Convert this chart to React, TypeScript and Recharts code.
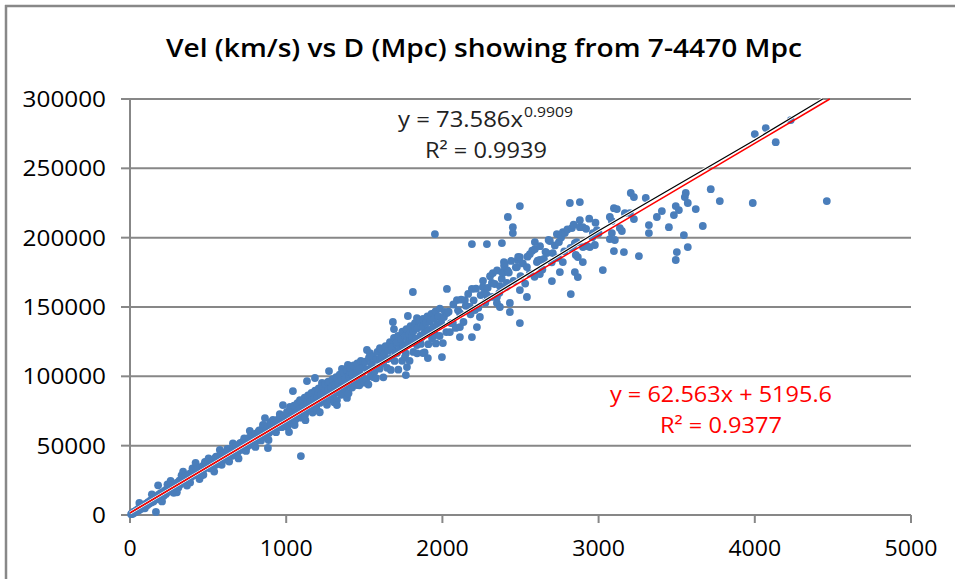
import React from 'react';
import { ScatterChart, Scatter, XAxis, YAxis, CartesianGrid } from 'recharts';

// [distance Mpc, velocity km/s], grouped by distance range
const nearGalaxies: [number, number][] = [
  [7, 600], [12, 1100], [18, 900], [25, 2400], [31, 1800], [38, 3100], [44, 2600], [50, 4300], [57, 3500], [60, 8700], [63, 5200],
  [70, 4400], [76, 6100], [83, 5300], [90, 7400], [95, 4800], [96, 6200], [103, 8100], [110, 7000], [116, 9300], [122, 8200], [130, 10400],
  [137, 9100], [140, 14900], [143, 11500], [150, 9800], [157, 12400], [163, 11200], [166, 2200], [170, 13500], [176, 11700], [180, 21400], [183, 14600],
  [190, 12900], [196, 15800], [200, 10900], [203, 14200], [205, 9800], [210, 16400], [216, 13900], [223, 17500], [230, 15200], [236, 18800], [240, 22100], [243, 16700],
  [250, 19200], [256, 17100], [260, 24600], [263, 20300], [270, 18600], [276, 21500], [280, 16000], [283, 19400], [290, 22600], [296, 20900], [300, 16400],
  [303, 23300], [310, 19800], [316, 24700], [323, 22100], [330, 25400], [330, 28600], [336, 23500], [340, 31200], [343, 26800], [350, 24200], [356, 27900],
  [363, 25100], [365, 21200], [370, 28600], [376, 26700], [383, 29800], [385, 23500], [390, 27400], [396, 30500], [400, 33600], [403, 28300], [410, 31700], [416, 28900],
  [420, 37600], [423, 32400], [430, 30100], [436, 33600], [443, 31500], [445, 25900], [450, 34300], [456, 32200], [460, 28600], [463, 35100], [470, 33400], [470, 29100],
  [476, 36500], [480, 38300], [483, 33900], [490, 37200], [496, 35600],
];

const midGalaxies: [number, number][] = [
  [503, 38400], [503, 40800], [510, 34700], [515, 33600], [516, 36900], [523, 39600], [527, 38100], [530, 33800], [536, 37600], [539, 31300],
  [543, 40900], [550, 36200], [551, 42100], [556, 39100], [563, 42300], [563, 38300], [570, 37400], [575, 47000], [576, 40300], [583, 43500],
  [587, 36200], [590, 38900], [596, 41700], [599, 44000], [603, 44800], [610, 40200], [611, 40300], [616, 42800], [623, 46300], [623, 47700],
  [630, 41100], [635, 38500], [636, 44200], [643, 47400], [647, 45400], [650, 42600], [656, 45900], [659, 51700], [663, 48600], [670, 43800],
  [671, 43000], [676, 46700], [683, 50200], [683, 49100], [690, 45400], [695, 40800], [696, 48300], [703, 51500], [707, 52000], [710, 46900],
  [716, 49800], [719, 49100], [723, 52700], [730, 48100], [731, 55300], [736, 51200], [743, 54300], [743, 46200], [750, 49200], [755, 52800],
  [756, 52400], [763, 55800], [767, 60700], [770, 50900], [776, 54100], [779, 50700], [783, 57200], [790, 52300], [791, 57200], [796, 55500],
  [803, 58600], [803, 49100], [810, 53800], [815, 56200], [816, 56700], [823, 60100], [827, 61000], [830, 55200], [836, 58300], [839, 53800],
  [843, 61500], [850, 56400], [851, 64900], [856, 59600], [863, 62800], [863, 57800], [864, 69900], [870, 58100], [875, 62100], [876, 61200],
  [883, 48300], [883, 64300], [887, 54100], [890, 59200], [896, 62600], [899, 66900], [903, 66100], [910, 60700], [911, 61300], [915, 68500],
  [916, 63800], [923, 67200], [923, 66700], [930, 62100], [935, 59700], [936, 65400], [941, 63400], [943, 68600], [947, 66400], [950, 63500],
  [956, 66700], [959, 72800], [960, 70700], [963, 70100], [970, 64800], [971, 63300], [976, 68200], [979, 79300], [983, 71400], [983, 71000],
  [990, 66300], [995, 64300], [996, 69500],
];

const farGalaxies: [number, number][] = [
  [1005, 74300], [1008, 63500], [1012, 65200], [1018, 59800], [1020, 70400], [1024, 77900], [1028, 76800], [1031, 66900], [1035, 67100], [1042, 72500],
  [1043, 89400], [1050, 78900], [1054, 64900], [1058, 68600], [1065, 74200], [1072, 80600], [1077, 70900], [1080, 70300], [1088, 76500], [1088, 82900],
  [1094, 42500], [1095, 82100], [1100, 70200], [1102, 72400], [1110, 78300], [1118, 84600], [1120, 72100], [1123, 68400], [1125, 74100], [1132, 79800],
  [1133, 96600], [1140, 86200], [1146, 76100], [1148, 75900], [1152, 86500], [1155, 81700], [1162, 88100], [1169, 73900], [1170, 77200], [1178, 83500],
  [1184, 98800], [1185, 89600], [1192, 79400], [1192, 77900], [1197, 75700], [1200, 85200], [1203, 88700], [1208, 91300], [1215, 80800], [1215, 74100],
  [1222, 86900], [1229, 95200], [1230, 93100], [1238, 82500], [1238, 81900], [1245, 88400], [1248, 90100], [1252, 94700], [1260, 84200], [1261, 79500],
  [1267, 95900], [1268, 90300], [1274, 103800], [1275, 96400], [1280, 85100], [1282, 85600], [1284, 83200], [1290, 91800], [1298, 97900], [1305, 87300],
  [1307, 81300], [1312, 93600], [1320, 99500], [1325, 82900], [1325, 79300], [1325, 98800], [1328, 88900], [1330, 88600], [1335, 95100], [1342, 101200],
  [1350, 90400], [1353, 86700], [1357, 95200], [1357, 105300], [1358, 96800], [1365, 102900], [1372, 92300], [1376, 90400], [1380, 98400], [1388, 104500],
  [1389, 84400], [1395, 93800], [1395, 108200], [1399, 87800], [1402, 100100], [1408, 97300], [1408, 103100], [1410, 106200], [1418, 95500], [1422, 91900],
  [1425, 101600], [1432, 107800], [1440, 97100], [1445, 96600], [1448, 103200], [1453, 93700], [1453, 104500], [1455, 109300], [1462, 98600], [1468, 93500],
  [1470, 104800], [1478, 111100], [1485, 100300], [1491, 110300], [1491, 97300], [1492, 106400],
];

const distantGalaxies: [number, number][] = [
  [1502, 95400], [1505, 110600], [1512, 97800], [1517, 119000], [1520, 105100], [1526, 94100], [1530, 113400], [1536, 116800], [1540, 100200], [1548, 108700],
  [1550, 101100], [1555, 99500], [1556, 114300], [1565, 103500], [1574, 98600], [1575, 111800], [1584, 117600], [1592, 106100], [1598, 105500], [1600, 112900],
  [1600, 120400], [1610, 119400], [1613, 113900], [1620, 109300], [1622, 99300], [1628, 116200], [1636, 121700], [1645, 112400], [1646, 106100], [1655, 118300],
  [1664, 124600], [1670, 104600], [1672, 113200], [1680, 121100], [1683, 139200], [1690, 127800], [1690, 134100], [1694, 111100], [1700, 117300], [1708, 123600],
  [1709, 124700], [1709, 116800], [1716, 129200], [1718, 104800], [1725, 119500], [1735, 126400], [1742, 111200], [1744, 132300], [1747, 122600], [1752, 121600],
  [1760, 128800], [1760, 113900], [1766, 100900], [1766, 116500], [1770, 134100], [1773, 106700], [1773, 128300], [1779, 143500], [1780, 124300], [1788, 130500],
  [1790, 111200], [1796, 136200], [1805, 125100], [1805, 129100], [1811, 160800], [1814, 117600], [1815, 132700], [1824, 138300], [1824, 134800], [1832, 127200],
  [1837, 142000], [1837, 122600], [1838, 116600], [1840, 134600], [1850, 140100], [1856, 140600], [1860, 129400], [1862, 123400], [1868, 136300], [1869, 128300],
  [1875, 135500], [1875, 116800], [1876, 141400], [1885, 131100], [1886, 117200], [1895, 138600], [1901, 131200], [1904, 143200], [1907, 133400], [1907, 113200],
  [1910, 123200], [1912, 133300], [1920, 139400], [1930, 145100], [1934, 127400], [1939, 131200], [1940, 135200], [1948, 141600], [1952, 202600], [1952, 129800],
  [1956, 146800], [1958, 123700], [1965, 137300], [1975, 143200], [1982, 129100], [1984, 148900], [1992, 139100], [1997, 113900],
];

const deepGalaxies: [number, number][] = [
  [2003, 124000], [2010, 142700], [2016, 146400], [2025, 131900], [2029, 163000], [2029, 145600], [2040, 146600], [2048, 131900], [2055, 138400], [2067, 138400],
  [2070, 151800], [2085, 134900], [2093, 155000], [2100, 147600], [2112, 145600], [2112, 135500], [2112, 128300], [2120, 155300], [2135, 139200], [2144, 155000],
  [2150, 150900], [2165, 159400], [2176, 150000], [2180, 144700], [2189, 195400], [2189, 163000], [2189, 128300], [2200, 154800], [2208, 147800], [2215, 163200],
  [2221, 135500], [2230, 149400], [2240, 142800], [2245, 158600], [2259, 164400], [2260, 168900], [2272, 160800], [2275, 153100], [2285, 195400], [2285, 158600],
  [2290, 163800], [2291, 156500], [2305, 172200], [2317, 167300], [2320, 157300], [2323, 174500], [2335, 166600], [2349, 157200], [2349, 152900], [2350, 176400],
  [2365, 160200], [2368, 165100], [2368, 150000], [2380, 170300], [2381, 196100], [2381, 175200], [2387, 174500], [2394, 182400], [2395, 179700], [2400, 181000],
  [2410, 164500], [2413, 167300], [2413, 176600], [2419, 214900], [2419, 175900], [2425, 174800], [2432, 146400], [2432, 152900], [2440, 183200], [2451, 207600],
  [2451, 203300], [2455, 168800], [2470, 178600], [2477, 178800], [2483, 183900], [2485, 186100], [2496, 222800], [2496, 186000], [2496, 162200], [2496, 138400],
  [2500, 172300],
];

const remoteGalaxies: [number, number][] = [
  [2515, 181400], [2530, 166900], [2541, 178800], [2541, 157200], [2545, 186300], [2560, 174200], [2560, 188200], [2575, 190600], [2590, 171800], [2592, 196800],
  [2592, 191800], [2605, 182400], [2610, 183400], [2624, 183900], [2624, 173800], [2625, 193900], [2640, 177100], [2650, 184600], [2660, 189800], [2669, 188900],
  [2680, 198300], [2688, 197600], [2700, 182200], [2701, 168700], [2707, 188900], [2720, 194400], [2733, 202600], [2740, 185500], [2746, 196800], [2752, 175200],
  [2760, 200200], [2771, 204000], [2771, 182400], [2780, 190100], [2784, 203300], [2800, 205900], [2816, 225000], [2820, 192600], [2822, 159300], [2829, 206900],
  [2835, 193200], [2840, 209300], [2848, 196100], [2848, 175200], [2854, 187500], [2860, 196700], [2867, 186000], [2867, 171600], [2880, 207600], [2880, 225700],
  [2880, 212600], [2899, 207600], [2899, 182400], [2900, 193200], [2920, 206400], [2925, 194000], [2940, 213700], [2944, 193200], [2960, 200300], [2963, 203300],
  [2976, 194700], [2980, 210800], [2989, 205500], [3000, 203200], [3027, 176600], [3072, 214900], [3072, 199000], [3085, 212000], [3085, 203300], [3098, 221300],
  [3098, 190300], [3104, 198300], [3117, 220600], [3136, 206900], [3149, 204800], [3162, 189600], [3168, 217700], [3200, 217700], [3206, 232200], [3226, 229300],
  [3226, 213400], [3258, 186700], [3302, 228600], [3322, 209100], [3322, 203300], [3373, 214900], [3405, 219200], [3450, 207600], [3482, 216300], [3494, 222800],
  [3494, 183900], [3501, 189600], [3514, 219900], [3546, 201900], [3552, 229300], [3558, 232200], [3571, 225000], [3571, 193200], [3622, 220600], [3667, 208400],
  [3718, 235000], [3776, 226400], [3987, 225000], [4000, 274700], [4070, 279000], [4134, 268900], [4230, 284800], [4461, 226400],
];

// trendlines
const powerFitDist = [0, 500, 1000, 2000, 3000, 4000, 4435];
const powerFitVel = [1500, 34800, 68200, 136000, 205000, 270500, 300000];
const linearFitDist = [0, 4480];
const linearFitVel = [1500, 300000];

const xTicks = [0, 1000, 2000, 3000, 4000, 5000];
const yTicks = [0, 50000, 100000, 150000, 200000, 250000, 300000];

const galaxies = [
  ...nearGalaxies, ...midGalaxies, ...farGalaxies, ...distantGalaxies, ...deepGalaxies, ...remoteGalaxies,
].map(([d, v]) => ({ d, v }));
const powerFit = powerFitDist.map((d, i) => ({ d, v: powerFitVel[i] }));
const linearFit = linearFitDist.map((d, i) => ({ d, v: linearFitVel[i] }));

const GRID = '#878787';
const FONT = "'Open Sans', sans-serif";

const YTick = (props: any) => {
  const { x, y, payload } = props;
  const s = String(payload.value);
  return (
    <text x={x} y={y + 8} textAnchor="end" fontFamily={FONT} fontSize={22} fill="#000"
      textLength={s.length * 13.9} lengthAdjust="spacingAndGlyphs">{s}</text>
  );
};

const XTick = (props: any) => {
  const { x, y, payload } = props;
  const s = String(payload.value);
  return (
    <text x={x} y={y + 33} textAnchor="middle" fontFamily={FONT} fontSize={22} fill="#000"
      textLength={s.length * 13.2} lengthAdjust="spacingAndGlyphs">{s}</text>
  );
};

const Dot = (props: any) => <circle cx={props.cx} cy={props.cy} r={3.9} fill="#4A7EBB" />;
const NoDot = () => <g />;

export default function App() {
  return (
    <div style={{ position: 'absolute', left: 0, top: 0, width: 955, height: 579, background: '#fff' }}>
      <ScatterChart width={955} height={579} margin={{ top: 99, right: 44, bottom: 0, left: 0 }}>
        <CartesianGrid vertical={false} stroke={GRID} strokeWidth={2} />
        <XAxis type="number" dataKey="d" domain={[0, 5000]} ticks={xTicks} interval={0} height={64}
          axisLine={{ stroke: GRID, strokeWidth: 2 }} tickLine={{ stroke: GRID, strokeWidth: 2 }}
          tickSize={8} tickMargin={0} tick={<XTick />} />
        <YAxis type="number" dataKey="v" domain={[0, 300000]} ticks={yTicks} interval={0} width={130}
          axisLine={{ stroke: GRID, strokeWidth: 2 }} tickLine={{ stroke: GRID, strokeWidth: 2 }}
          tickSize={9} tickMargin={15} tick={<YTick />} />
        <Scatter data={galaxies} shape={<Dot />} isAnimationActive={false} />
        <Scatter data={powerFit} line={{ stroke: '#ffffff', strokeWidth: 3 }} lineType="joint" shape={<NoDot />} isAnimationActive={false} />
        <Scatter data={powerFit} line={{ stroke: '#000000', strokeWidth: 1.2 }} lineType="joint" shape={<NoDot />} isAnimationActive={false} />
        <Scatter data={linearFit} line={{ stroke: '#ff0000', strokeWidth: 1.5 }} lineType="joint" shape={<NoDot />} isAnimationActive={false} />
      </ScatterChart>
      <svg width={955} height={579} style={{ position: 'absolute', left: 0, top: 0, pointerEvents: 'none' }}>
        <line x1={5} y1={6} x2={955} y2={6} stroke="#888" strokeWidth={2.5} />
        <line x1={6} y1={5} x2={6} y2={579} stroke="#888" strokeWidth={2.5} />
        <text x={484} y={57} textAnchor="middle" fontFamily={FONT} fontSize={25} fontWeight={600} fill="#000"
          textLength={636} lengthAdjust="spacingAndGlyphs">Vel (km/s) vs D (Mpc) showing from 7-4470 Mpc</text>
        <text x={398} y={127} fontFamily={FONT} fontSize={22} fill="#222" textLength={125} lengthAdjust="spacingAndGlyphs">y = 73.586x</text>
        <text x={524} y={117} fontFamily={FONT} fontSize={14} fill="#222" textLength={49} lengthAdjust="spacingAndGlyphs">0.9909</text>
        <text x={425} y={158} fontFamily={FONT} fontSize={22} fill="#222" textLength={122} lengthAdjust="spacingAndGlyphs">R² = 0.9939</text>
        <text x={610} y={402} fontFamily={FONT} fontSize={22} fill="#ff0000" textLength={222} lengthAdjust="spacingAndGlyphs">y = 62.563x + 5195.6</text>
        <text x={660} y={433} fontFamily={FONT} fontSize={22} fill="#ff0000" textLength={122} lengthAdjust="spacingAndGlyphs">R² = 0.9377</text>
      </svg>
    </div>
  );
}
